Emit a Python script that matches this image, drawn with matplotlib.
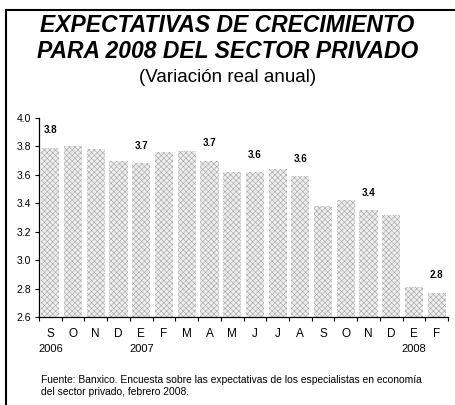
import matplotlib
matplotlib.use("Agg")
import matplotlib.pyplot as plt
import numpy as np

months = ["S", "O", "N", "D", "E", "F", "M", "A", "M", "J", "J", "A", "S", "O", "N", "D", "E", "F"]
values = [3.79, 3.80, 3.78, 3.70, 3.68, 3.76, 3.77, 3.70, 3.62, 3.62, 3.64, 3.59,
          3.38, 3.42, 3.35, 3.32, 2.81, 2.77]
# labelled bars (index -> text)
label_idx = [0, 4, 7, 9, 11, 14, 17]
label_txt = ["3.8", "3.7", "3.7", "3.6", "3.6", "3.4", "2.8"]
years = ["2006", "2007", "2008"]
year_idx = [0, 4, 16]

plt.rcParams["font.family"] = ["Liberation Sans", "DejaVu Sans"]
plt.rcParams["hatch.color"] = "#ababab"
plt.rcParams["hatch.linewidth"] = 0.45

fig = plt.figure(figsize=(4.55, 4.05), dpi=100)
ax = fig.add_axes([0.0857, 0.2173, 0.899, 0.4913])

x = np.arange(len(values))
ax.bar(x, np.array(values) - 2.6, bottom=2.6, width=0.8, color="#eeeeee",
       hatch="xxxxxx", edgecolor="#ababab", linewidth=0)

for i, t in zip(label_idx, label_txt):
    ax.annotate(t, (x[i], values[i]), xytext=(0, 9), textcoords="offset points",
                ha="center", va="bottom", fontsize=7, fontweight="bold")

ax.set_xlim(-0.5, len(values) - 0.5)
ax.set_ylim(2.6, 4.0)
ax.set_yticks(np.arange(2.6, 4.01, 0.2))
ax.set_yticklabels([f"{v:.1f}" for v in np.arange(2.6, 4.01, 0.2)], fontsize=7.5)
ax.set_xticks(np.arange(-0.5, len(values), 1.0))
ax.set_xticklabels([])
ax.tick_params(axis="both", direction="out", length=3, width=0.8, pad=3)
for s in ["top", "right"]:
    ax.spines[s].set_visible(False)
for s in ["left", "bottom"]:
    ax.spines[s].set_linewidth(0.9)

trans = ax.get_xaxis_transform()
for i, m in enumerate(months):
    ax.text(x[i], -0.085, m, transform=trans, ha="center", va="center", fontsize=8.5)
for i, y in zip(year_idx, years):
    ax.text(x[i], -0.16, y, transform=trans, ha="center", va="center", fontsize=8)

fig.text(0.5, 1 - 25 / 405, "EXPECTATIVAS DE CRECIMIENTO", ha="center", va="center",
         fontsize=16.5, fontweight="bold", fontstyle="italic")
fig.text(0.5, 1 - 51 / 405, "PARA 2008 DEL SECTOR PRIVADO", ha="center", va="center",
         fontsize=16.5, fontweight="bold", fontstyle="italic")
fig.text(0.5, 1 - 77 / 405, "(Variación real anual)", ha="center", va="center", fontsize=13.5)

fig.text(41 / 455, 1 - 380 / 405,
         "Fuente: Banxico. Encuesta sobre las expectativas de los especialistas en economía",
         ha="left", va="center", fontsize=7.4)
fig.text(41 / 455, 1 - 392 / 405, "del sector privado, febrero 2008.",
         ha="left", va="center", fontsize=7.4)

# frame: top and left border
fig.add_artist(plt.Line2D([6 / 455, 1], [1 - 10 / 405] * 2, color="black", lw=1.5))
fig.add_artist(plt.Line2D([6 / 455] * 2, [0, 1 - 10 / 405], color="black", lw=1.5))

fig.savefig("out.png", dpi=100)
